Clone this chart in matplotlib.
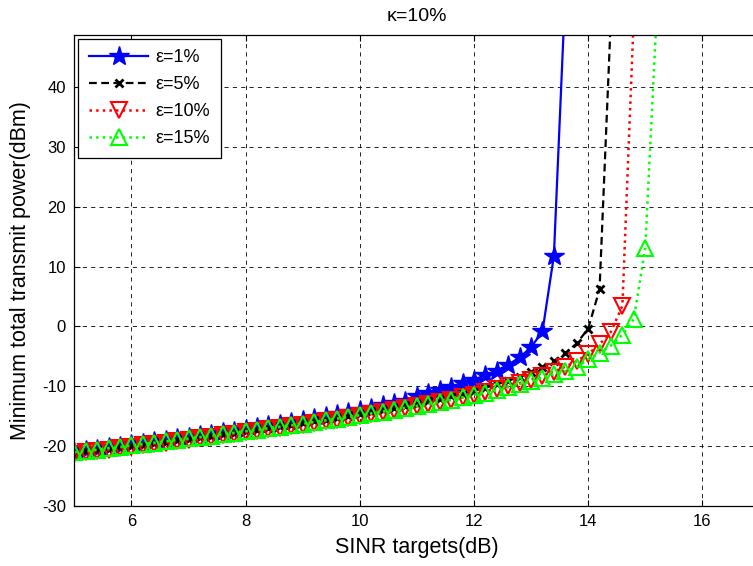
import matplotlib
matplotlib.use('Agg')
import matplotlib.pyplot as plt
import numpy as np

plt.rcParams['font.family'] = ['Liberation Sans', 'DejaVu Sans']
plt.rcParams['axes.unicode_minus'] = False

# SINR targets (dB) for each curve, 0.2 dB steps
x_e1 = np.round(np.arange(5.0, 13.61, 0.2), 1)
x_e5 = np.round(np.arange(5.0, 14.41, 0.2), 1)
x_e10 = np.round(np.arange(5.0, 14.81, 0.2), 1)
x_e15 = np.round(np.arange(5.0, 15.21, 0.2), 1)

# minimum total transmit power (dBm); last point of each is off the top
p_e1 = [-20.93, -20.70, -20.46, -20.22, -19.98, -19.74, -19.49, -19.25, -19.00, -18.74,
        -18.49, -18.23, -17.96, -17.70, -17.43, -17.15, -16.87, -16.57, -16.28, -15.98,
        -15.67, -15.35, -15.03, -14.69, -14.35, -13.99, -13.62, -13.23, -12.82, -12.40,
        -11.70, -11.20, -10.60, -10.10, -9.50, -8.90, -8.20, -7.40, -6.40, -5.20,
        -3.50, -0.85, 11.8, 56.0]
p_e5 = [-21.15, -20.92, -20.69, -20.46, -20.23, -20.00, -19.76, -19.52, -19.28, -19.04,
        -18.79, -18.55, -18.30, -18.04, -17.79, -17.53, -17.26, -17.00, -16.73, -16.45,
        -16.17, -15.87, -15.58, -15.28, -14.97, -14.65, -14.33, -13.99, -13.65, -13.29,
        -12.92, -12.53, -12.12, -11.70, -11.24, -10.76, -10.26, -9.70, -9.09, -8.43,
        -7.67, -6.82, -5.80, -4.53, -2.83, -0.40, 6.2, 52.0]
p_e10 = [-21.29, -21.07, -20.84, -20.61, -20.38, -20.15, -19.92, -19.69, -19.45, -19.22,
         -18.98, -18.73, -18.49, -18.24, -17.99, -17.74, -17.49, -17.23, -16.97, -16.70,
         -16.43, -16.16, -15.88, -15.59, -15.29, -14.99, -14.69, -14.37, -14.05, -13.72,
         -13.38, -13.02, -12.66, -12.28, -11.88, -11.46, -11.01, -10.55, -10.04, -9.50,
         -8.92, -8.28, -7.57, -6.75, -5.79, -4.62, -3.00, -0.89, 3.45, 52.0]
p_e15 = [-21.04, -20.82, -20.60, -20.37, -20.14, -19.92, -19.69, -19.46, -19.22, -18.99,
         -18.75, -18.51, -18.27, -18.03, -17.78, -17.53, -17.28, -17.03, -16.77, -16.51,
         -16.25, -15.98, -15.71, -15.43, -15.15, -14.85, -14.55, -14.25, -13.94, -13.62,
         -13.30, -12.96, -12.61, -12.25, -11.87, -11.48, -11.07, -10.64, -10.18, -9.69,
         -9.17, -8.61, -7.99, -7.50, -6.80, -5.50, -4.40, -3.20, -1.40, 1.20,
         13.1, 52.0]

fig = plt.figure(figsize=(7.53, 5.66), dpi=100)
ax = fig.add_axes([0.0987, 0.1065, 0.9098, 0.8317])

ax.plot(x_e1, p_e1, color='blue', linestyle='-', linewidth=1.6,
        marker='*', markersize=15, label='ε=1%')
ax.plot(x_e5, p_e5, color='black', linestyle='--', linewidth=1.6, dashes=(3.5, 2),
        marker='x', markersize=5.5, markeredgewidth=2, label='ε=5%')
ax.plot(x_e10, p_e10, color='red', linestyle=':', linewidth=1.8,
        marker='v', markersize=11.5, markerfacecolor='none', markeredgewidth=1.5, label='ε=10%')
ax.plot(x_e15, p_e15, color='lime', linestyle=':', linewidth=1.8,
        marker='^', markersize=11.5, markerfacecolor='none', markeredgewidth=1.5, label='ε=15%')

ax.set_xlim(5, 17)
ax.set_ylim(-30, 48.75)
ax.set_xticks([6, 8, 10, 12, 14, 16])
ax.set_yticks([-30, -20, -10, 0, 10, 20, 30, 40])
ax.grid(True, color='black', linestyle=(0, (5, 5)), linewidth=0.6)
ax.tick_params(direction='in', length=4, labelsize=12, top=True, right=True, pad=6)
for s in ax.spines.values():
    s.set_linewidth(0.9)

ax.set_xlabel('SINR targets(dB)', fontsize=15.5, labelpad=6)
ax.set_ylabel('Minimum total transmit power(dBm)', fontsize=15.5, labelpad=8)
ax.set_title('κ=10%', fontsize=14, pad=10)

leg = ax.legend(loc='upper left', fontsize=13, numpoints=1, handlelength=3.3,
                handletextpad=0.4, labelspacing=0.55, borderaxespad=0.2, borderpad=0.6,
                fancybox=False, framealpha=1)
leg.get_frame().set_edgecolor('black')
leg.get_frame().set_linewidth(0.9)

fig.savefig('out.png', dpi=100)
